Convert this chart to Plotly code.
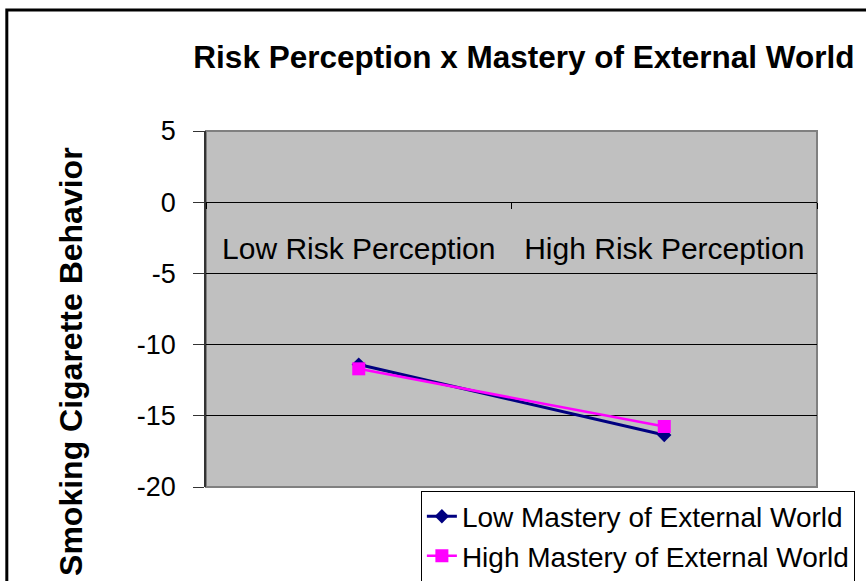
import plotly.graph_objects as go

# Categories and series values
categories = ["Low Risk Perception", "High Risk Perception"]
low_mastery = [-11.4, -16.35]
high_mastery = [-11.7, -15.75]
series_names = ["Low Mastery of External World", "High Mastery of External World"]
y_ticks = [5, 0, -5, -10, -15, -20]
y_title = "Smoking Cigarette Behavior"

FONT = "Liberation Sans, Arial, sans-serif"

fig = go.Figure()
fig.add_trace(go.Scatter(
    x=categories, y=low_mastery, name=series_names[0], mode="lines+markers",
    line=dict(color="#000080", width=3),
    marker=dict(symbol="diamond", size=11, color="#000080"),
))
fig.add_trace(go.Scatter(
    x=categories, y=high_mastery, name=series_names[1], mode="lines+markers",
    line=dict(color="#FF00FF", width=2.5),
    marker=dict(symbol="square", size=13, color="#FF00FF"),
))

fig.update_layout(
    width=866, height=581,
    margin=dict(l=206, r=49, t=131, b=94, autoexpand=False),
    paper_bgcolor="white",
    plot_bgcolor="#C0C0C0",
    font=dict(family=FONT, color="black"),
    title=dict(
        text="<b>Risk Perception x Mastery of External World</b>",
        x=0.605, xanchor="center", y=0.902, yanchor="middle",
        font=dict(size=31.5, family=FONT, color="black"),
    ),
    showlegend=True,
    legend=dict(
        x=1.062, xanchor="right", y=-0.01, yanchor="top",
        bgcolor="white", bordercolor="black", borderwidth=1,
        font=dict(size=28, family=FONT, color="black"),
        tracegroupgap=0,
    ),
    xaxis=dict(
        type="category", range=[-0.5, 1.5],
        anchor="free", position=0.8,
        showline=True, linecolor="black", linewidth=1,
        showgrid=False, zeroline=False,
        ticks="outside", ticklen=6, tickcolor="black", tickson="boundaries",
        tickangle=0,
        tickfont=dict(size=30, family=FONT, color="black"),
        ticklabelstandoff=20,
    ),
    yaxis=dict(
        range=[-20, 5], tickvals=y_ticks, ticktext=[str(v) for v in y_ticks],
        showline=True, linecolor="#333333", linewidth=1.5,
        showgrid=True, gridcolor="black", gridwidth=1,
        zeroline=False,
        ticks="outside", ticklen=11, tickcolor="#333333",
        tickfont=dict(size=27, family=FONT, color="black"),
        ticklabelstandoff=12,
    ),
    annotations=[
        dict(text="<b>" + y_title + "</b>", xref="paper", yref="paper",
             x=-0.221, y=0.354, xanchor="center", yanchor="middle",
             textangle=-90, showarrow=False,
             font=dict(size=32, family=FONT, color="black")),
    ],
    shapes=[
        # plot-area border
        dict(type="rect", xref="paper", yref="paper", x0=0, x1=1, y0=0, y1=1,
             line=dict(color="#808080", width=2), layer="between"),
        # chart-area frame
        dict(type="rect", xref="paper", yref="paper",
             x0=-0.326, x1=1.3, y0=-0.45, y1=1.34,
             line=dict(color="black", width=3), layer="above"),
    ],
)

fig.write_html("out.html")
